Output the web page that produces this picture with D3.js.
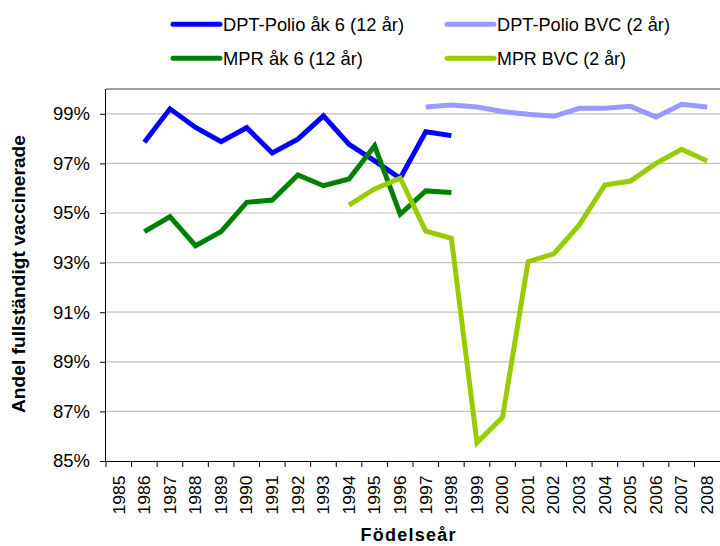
<!DOCTYPE html>
<html>
<head>
<meta charset="utf-8">
<script src="https://cdn.jsdelivr.net/npm/d3@7"></script>
<style>
  body { margin: 0; background: #fff; }
  text { font-family: "Liberation Sans", Arial, sans-serif; }
</style>
</head>
<body>
<div id="chart"></div>
<script>
const years = d3.range(1985, 2009).map(String);
const yTicks = [85, 87, 89, 91, 93, 95, 97, 99];

const dptAk6Years = ["1986","1987","1988","1989","1990","1991","1992","1993","1994","1995","1996","1997","1998"];
const dptAk6 = [97.85, 99.2, 98.45, 97.88, 98.44, 97.42, 97.98, 98.92, 97.77, 97.1, 96.4, 98.28, 98.12];

const mprAk6Years = dptAk6Years;
const mprAk6 = [94.25, 94.85, 93.68, 94.25, 95.43, 95.52, 96.53, 96.1, 96.37, 97.71, 94.95, 95.89, 95.83];

const dptBvcYears = ["1997","1998","1999","2000","2001","2002","2003","2004","2005","2006","2007","2008"];
const dptBvc = [99.27, 99.35, 99.27, 99.09, 98.98, 98.9, 99.22, 99.22, 99.3, 98.87, 99.38, 99.27];

const mprBvcYears = ["1994","1995","1996","1997","1998","1999","2000","2001","2002","2003","2004","2005","2006","2007","2008"];
const mprBvc = [95.32, 95.97, 96.4, 94.27, 93.98, 85.74, 86.76, 93.04, 93.35, 94.52, 96.13, 96.29, 97.0, 97.57, 97.1];

const series = [
  { name: "DPT-Polio åk 6 (12 år)", color: "#0000ff", years: dptAk6Years, values: dptAk6 },
  { name: "DPT-Polio BVC (2 år)", color: "#9999ff", years: dptBvcYears, values: dptBvc },
  { name: "MPR åk 6 (12 år)", color: "#008000", years: mprAk6Years, values: mprAk6 },
  { name: "MPR BVC (2 år)", color: "#99cc00", years: mprBvcYears, values: mprBvc }
];

const width = 720, height = 546;
const margin = { top: 89, left: 106, bottom: 85, right: 0 };
const iwidth = width - margin.left - margin.right;
const iheight = height - margin.top - margin.bottom;

const svg = d3.select("#chart").append("svg")
  .attr("width", width).attr("height", height);

const g = svg.append("g").attr("transform", `translate(${margin.left},${margin.top})`);

const x = d3.scaleBand().domain(years).range([0, iwidth]);
const y = d3.scaleLinear().domain([85, 100]).range([iheight, 0]);

// grid
g.selectAll(".grid").data(yTicks.filter(d => d > 85)).enter().append("line")
  .attr("x1", 0).attr("x2", iwidth)
  .attr("y1", d => y(d)).attr("y2", d => y(d))
  .attr("stroke", "#c0c0c0").attr("stroke-width", 1.2);

// top border
g.append("line").attr("x1", 0).attr("x2", iwidth).attr("y1", 0).attr("y2", 0)
  .attr("stroke", "#808080").attr("stroke-width", 1.5);

// y axis
const yAxis = g.append("g")
  .call(d3.axisLeft(y).tickValues(yTicks).tickSize(6).tickPadding(10).tickFormat(d => d + "%"));
yAxis.select(".domain").attr("d", `M-0.5,0V${iheight}`).attr("stroke", "#000");
yAxis.selectAll("text").attr("font-size", 18.5).attr("fill", "#000")
  .attr("font-family", "'Liberation Sans', Arial, sans-serif");

// x axis with ticks at band boundaries
const xAxis = g.append("g").attr("transform", `translate(0,${iheight})`)
  .call(d3.axisBottom(x).tickSize(0));
xAxis.select(".domain").attr("d", `M0,0.5H${iwidth}`).attr("stroke", "#000");
xAxis.selectAll(".tick text")
  .attr("transform", "rotate(-90)")
  .attr("text-anchor", "end")
  .attr("dy", "0.36em")
  .attr("x", -14.5).attr("y", 0)
  .attr("font-size", 16).attr("fill", "#000")
  .attr("textLength", 39).attr("lengthAdjust", "spacingAndGlyphs")
  .attr("font-family", "'Liberation Sans', Arial, sans-serif");
xAxis.selectAll(".bnd").data(years).enter().append("line")
  .attr("x1", d => x(d)).attr("x2", d => x(d))
  .attr("y1", 0).attr("y2", 6).attr("stroke", "#000");

// lines
const line = d3.line()
  .x(d => x(d[0]) + x.bandwidth() / 2)
  .y(d => y(d[1]));

const drawOrder = [series[1], series[0], series[2], series[3]];
drawOrder.forEach(s => {
  g.append("path")
    .datum(s.years.map((yr, i) => [yr, s.values[i]]))
    .attr("fill", "none")
    .attr("stroke", s.color)
    .attr("stroke-width", 5)
    .attr("stroke-linejoin", "miter")
    .attr("d", line);
});

// axis titles
svg.append("text")
  .attr("transform", "translate(25,274) rotate(-90)")
  .attr("text-anchor", "middle")
  .attr("font-size", 19).attr("font-weight", "bold")
  .attr("textLength", 278).attr("lengthAdjust", "spacingAndGlyphs")
  .text("Andel fullständigt vaccinerade");

svg.append("text")
  .attr("x", 408).attr("y", 541)
  .attr("text-anchor", "middle")
  .attr("font-size", 18).attr("font-weight", "bold")
  .attr("textLength", 95).attr("lengthAdjust", "spacing")
  .text("Födelseår");

// legend
const legendPos = [[173, 24.3], [447, 24.3], [173, 58.3], [447, 58.3]];
const legendLen = [181, 173, 140, 129];
series.forEach((s, i) => {
  const [lx, ly] = legendPos[i];
  const lg = svg.append("g").attr("transform", `translate(${lx},${ly})`);
  lg.append("line").attr("x1", 0).attr("x2", 47).attr("y1", 0).attr("y2", 0)
    .attr("stroke", s.color).attr("stroke-width", 5).attr("stroke-linecap", "round");
  lg.append("text").attr("x", 50).attr("y", 0).attr("dy", "0.36em")
    .attr("font-size", 19)
    .attr("textLength", legendLen[i]).attr("lengthAdjust", "spacingAndGlyphs")
    .text(s.name);
});
</script>
</body>
</html>
